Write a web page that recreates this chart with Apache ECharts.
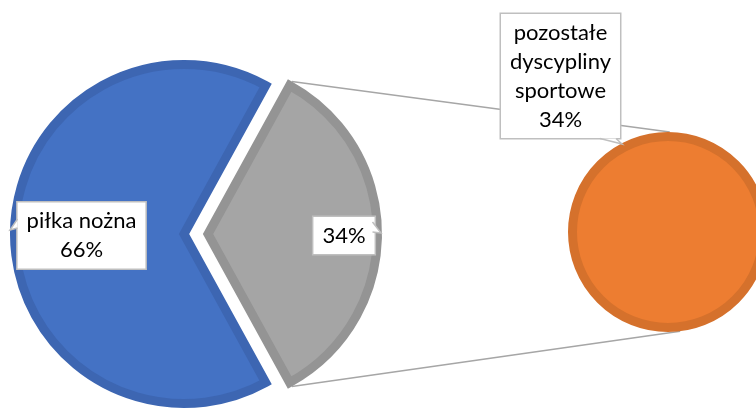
<!DOCTYPE html>
<html>
<head>
<meta charset="utf-8">
<script src="https://cdn.jsdelivr.net/npm/echarts@6/dist/echarts.min.js"></script>
<style>html,body{margin:0;padding:0;background:#fff}#c{width:756px;height:409px}</style>
</head>
<body>
<div id="c"></div>
<script>
// ---- data ----
const categories = ['piłka nożna', 'pozostałe dyscypliny sportowe'];
const shares = [66, 34];
const secondaryCategories = ['pozostałe dyscypliny sportowe'];
const secondaryShares = [34];

// ---- layout ----
const mainCenter = [184, 234];
const mainOuter = 174;
const explode = 24;
const secCenter = [668, 232];
const secOuter = 100;
const bw = 9;

const total = shares.reduce((a, b) => a + b, 0);
const halfAngle = 180 * shares[1] / total;          // half of the exploded slice (centred on 0°)
const startAngle = 360 - halfAngle;

const fills = ['#4472C4', '#A5A5A5'];
const borders = ['#3D66B2', '#949494'];

const labelBase = {
  fontFamily: 'Lato',
  fontSize: 22,
  lineHeight: 29,
  color: '#000',
  backgroundColor: '#fff',
  borderColor: '#BFBFBF',
  borderWidth: 1.5,
  padding: [4, 9],
  align: 'center'
};

const rad = a => a * Math.PI / 180;
const explodedCenter = [mainCenter[0] + explode * Math.cos(0), mainCenter[1]];
const p1 = [explodedCenter[0] + mainOuter * Math.cos(rad(halfAngle)), explodedCenter[1] - mainOuter * Math.sin(rad(halfAngle))];
const p2 = [explodedCenter[0] + mainOuter * Math.cos(rad(halfAngle)), explodedCenter[1] + mainOuter * Math.sin(rad(halfAngle))];
const q1 = [secCenter[0] + secOuter * Math.cos(rad(89)), secCenter[1] - secOuter * Math.sin(rad(89))];
const q2 = [secCenter[0] + secOuter * Math.cos(rad(-83)), secCenter[1] - secOuter * Math.sin(rad(-83))];

const mainLabelPos = [[81.5, 235.5], [344, 235.5]];
const secLabelPos = [560.5, 76];

// one pie per ring position: slice `visibleIndex` drawn, the other left transparent
function mainSeries(center, visibleIndex) {
  return {
    type: 'pie',
    center: center,
    radius: mainOuter - bw / 2,
    startAngle: startAngle,
    clockwise: true,
    silent: true,
    avoidLabelOverlap: false,
    emphasis: { disabled: true },
    itemStyle: { borderWidth: bw, borderJoin: 'miter', borderMiterLimit: 10 },
    label: Object.assign({ show: false }, labelBase),
    labelLine: { show: false },
    labelLayout: p => ({ x: mainLabelPos[p.dataIndex][0], y: mainLabelPos[p.dataIndex][1], align: 'center', verticalAlign: 'middle' }),
    data: categories.map((n, i) => ({
      name: n,
      value: shares[i],
      itemStyle: i === visibleIndex
        ? { color: fills[i], borderColor: borders[i] }
        : { color: 'rgba(0,0,0,0)', borderColor: 'rgba(0,0,0,0)' },
      label: {
        show: i === visibleIndex,
        formatter: p => i === 0 ? p.name + '\n' + p.value + '%' : p.value + '%'
      }
    }))
  };
}

// callout pointers of the label boxes
const pointers = [
  [[17.5, 219], [10, 230], [17.5, 228]],
  [[372.5, 222], [381, 233], [372.5, 232]],
  [[600, 138.5], [622, 144], [616, 138.5]]
];
const pointerGraphics = [];
pointers.forEach(pts => {
  pointerGraphics.push({ type: 'polygon', z: 100, silent: true, shape: { points: pts }, style: { fill: '#fff', stroke: null } });
  pointerGraphics.push({ type: 'polyline', z: 101, silent: true, shape: { points: pts }, style: { stroke: '#BFBFBF', lineWidth: 1.5, fill: null } });
});

const chart = echarts.init(document.getElementById('c'), null, { renderer: 'canvas' });
chart.setOption({
  animation: false,
  backgroundColor: '#fff',
  graphic: [
    { type: 'line', z: 0, silent: true, shape: { x1: p1[0], y1: p1[1], x2: q1[0], y2: q1[1] }, style: { stroke: '#A6A6A6', lineWidth: 1.5 } },
    { type: 'line', z: 0, silent: true, shape: { x1: p2[0], y1: p2[1], x2: q2[0], y2: q2[1] }, style: { stroke: '#A6A6A6', lineWidth: 1.5 } }
  ].concat(pointerGraphics),
  series: [
    mainSeries(mainCenter, 0),
    mainSeries(explodedCenter, 1),
    {
      type: 'pie',
      center: secCenter,
      radius: secOuter - bw / 2,
      startAngle: 90,
      silent: true,
      avoidLabelOverlap: false,
      emphasis: { disabled: true },
      itemStyle: { color: '#ED7D31', borderColor: '#D5712C', borderWidth: bw },
      label: Object.assign({ show: true }, labelBase, {
        formatter: p => p.name.split(' ').join('\n') + '\n' + p.value + '%'
      }),
      labelLine: { show: false },
      labelLayout: () => ({ x: secLabelPos[0], y: secLabelPos[1], align: 'center', verticalAlign: 'middle' }),
      data: secondaryCategories.map((n, i) => ({ name: n, value: secondaryShares[i] }))
    }
  ]
});
</script>
</body>
</html>
